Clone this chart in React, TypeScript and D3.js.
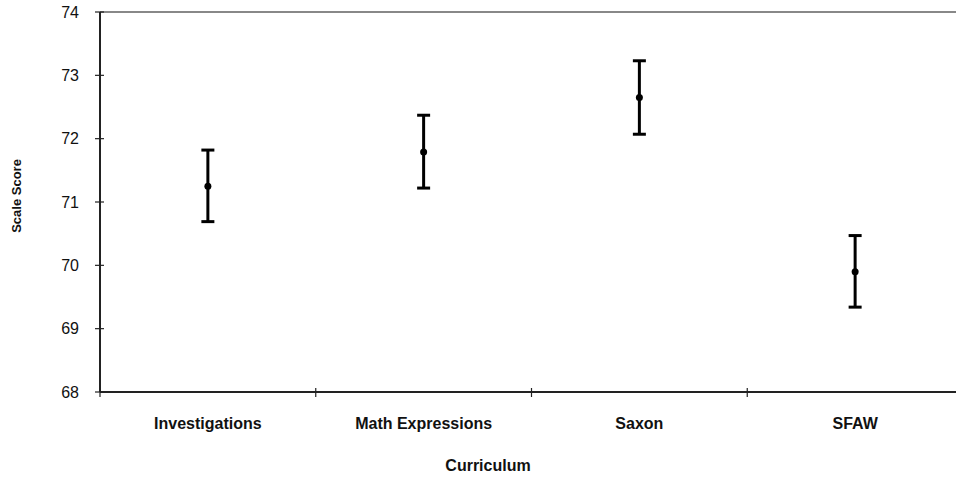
import React from "react";
import * as d3 from "d3";

const curricula = ["Investigations", "Math Expressions", "Saxon", "SFAW"];
const means = [71.25, 71.79, 72.65, 69.9];
const upper = [71.82, 72.37, 73.23, 70.47];
const lower = [70.69, 71.22, 72.07, 69.34];
const yTicks = [68, 69, 70, 71, 72, 73, 74];

const width = 956;
const height = 479;
const left = 100;
const right = 963;
const top = 12;
const bottom = 392;

const x = d3.scaleBand<string>().domain(curricula).range([left, right]);
const y = d3.scaleLinear().domain([68, 74]).range([bottom, top]);

const App = () => {
  const font = "Arial, 'Liberation Sans', sans-serif";
  const bounds = x.domain().map((_, i) => left + i * x.bandwidth()).concat([right]);
  return (
    <div>
      <style>{`body{margin:0}`}</style>
      <svg width={width} height={height} style={{ display: "block", fontFamily: font }}>
        {/* top frame line */}
        <line x1={left} x2={right} y1={top} y2={top} stroke="#888" strokeWidth={2} />
        {/* y axis */}
        <line x1={left} x2={left} y1={top} y2={bottom} stroke="#222" strokeWidth={2} />
        {yTicks.map(t => (
          <g key={t}>
            <line x1={left - 5} x2={left + 4} y1={y(t)} y2={y(t)} stroke="#222" strokeWidth={1.2} />
            <text x={79} y={y(t)} dy="0.36em" textAnchor="end" fontSize={16} fill="#111">{t}</text>
          </g>
        ))}
        {/* x axis */}
        <line x1={left} x2={right} y1={bottom} y2={bottom} stroke="#222" strokeWidth={2} />
        {bounds.map((b, i) => (
          <line key={i} x1={b} x2={b} y1={bottom - 4} y2={bottom + 5} stroke="#222" strokeWidth={1.2} />
        ))}
        {curricula.map(c => (
          <text key={c} x={x(c)! + x.bandwidth() / 2} y={429} textAnchor="middle" fontSize={16} fontWeight="bold" fill="#111">{c}</text>
        ))}
        <text x={488} y={471} textAnchor="middle" fontSize={16} fontWeight="bold" fill="#111">Curriculum</text>
        <text transform={`translate(21,196) rotate(-90)`} textAnchor="middle" fontSize={13} fontWeight="bold" fill="#111">Scale Score</text>
        {/* error bars */}
        {curricula.map((c, i) => {
          const cx = x(c)! + x.bandwidth() / 2;
          return (
            <g key={c} stroke="#000" strokeWidth={3}>
              <line x1={cx} x2={cx} y1={y(upper[i])} y2={y(lower[i])} />
              <line x1={cx - 6.5} x2={cx + 6.5} y1={y(upper[i])} y2={y(upper[i])} />
              <line x1={cx - 6.5} x2={cx + 6.5} y1={y(lower[i])} y2={y(lower[i])} />
              <circle cx={cx} cy={y(means[i])} r={3.5} fill="#000" stroke="none" />
            </g>
          );
        })}
      </svg>
    </div>
  );
};

export default App;
